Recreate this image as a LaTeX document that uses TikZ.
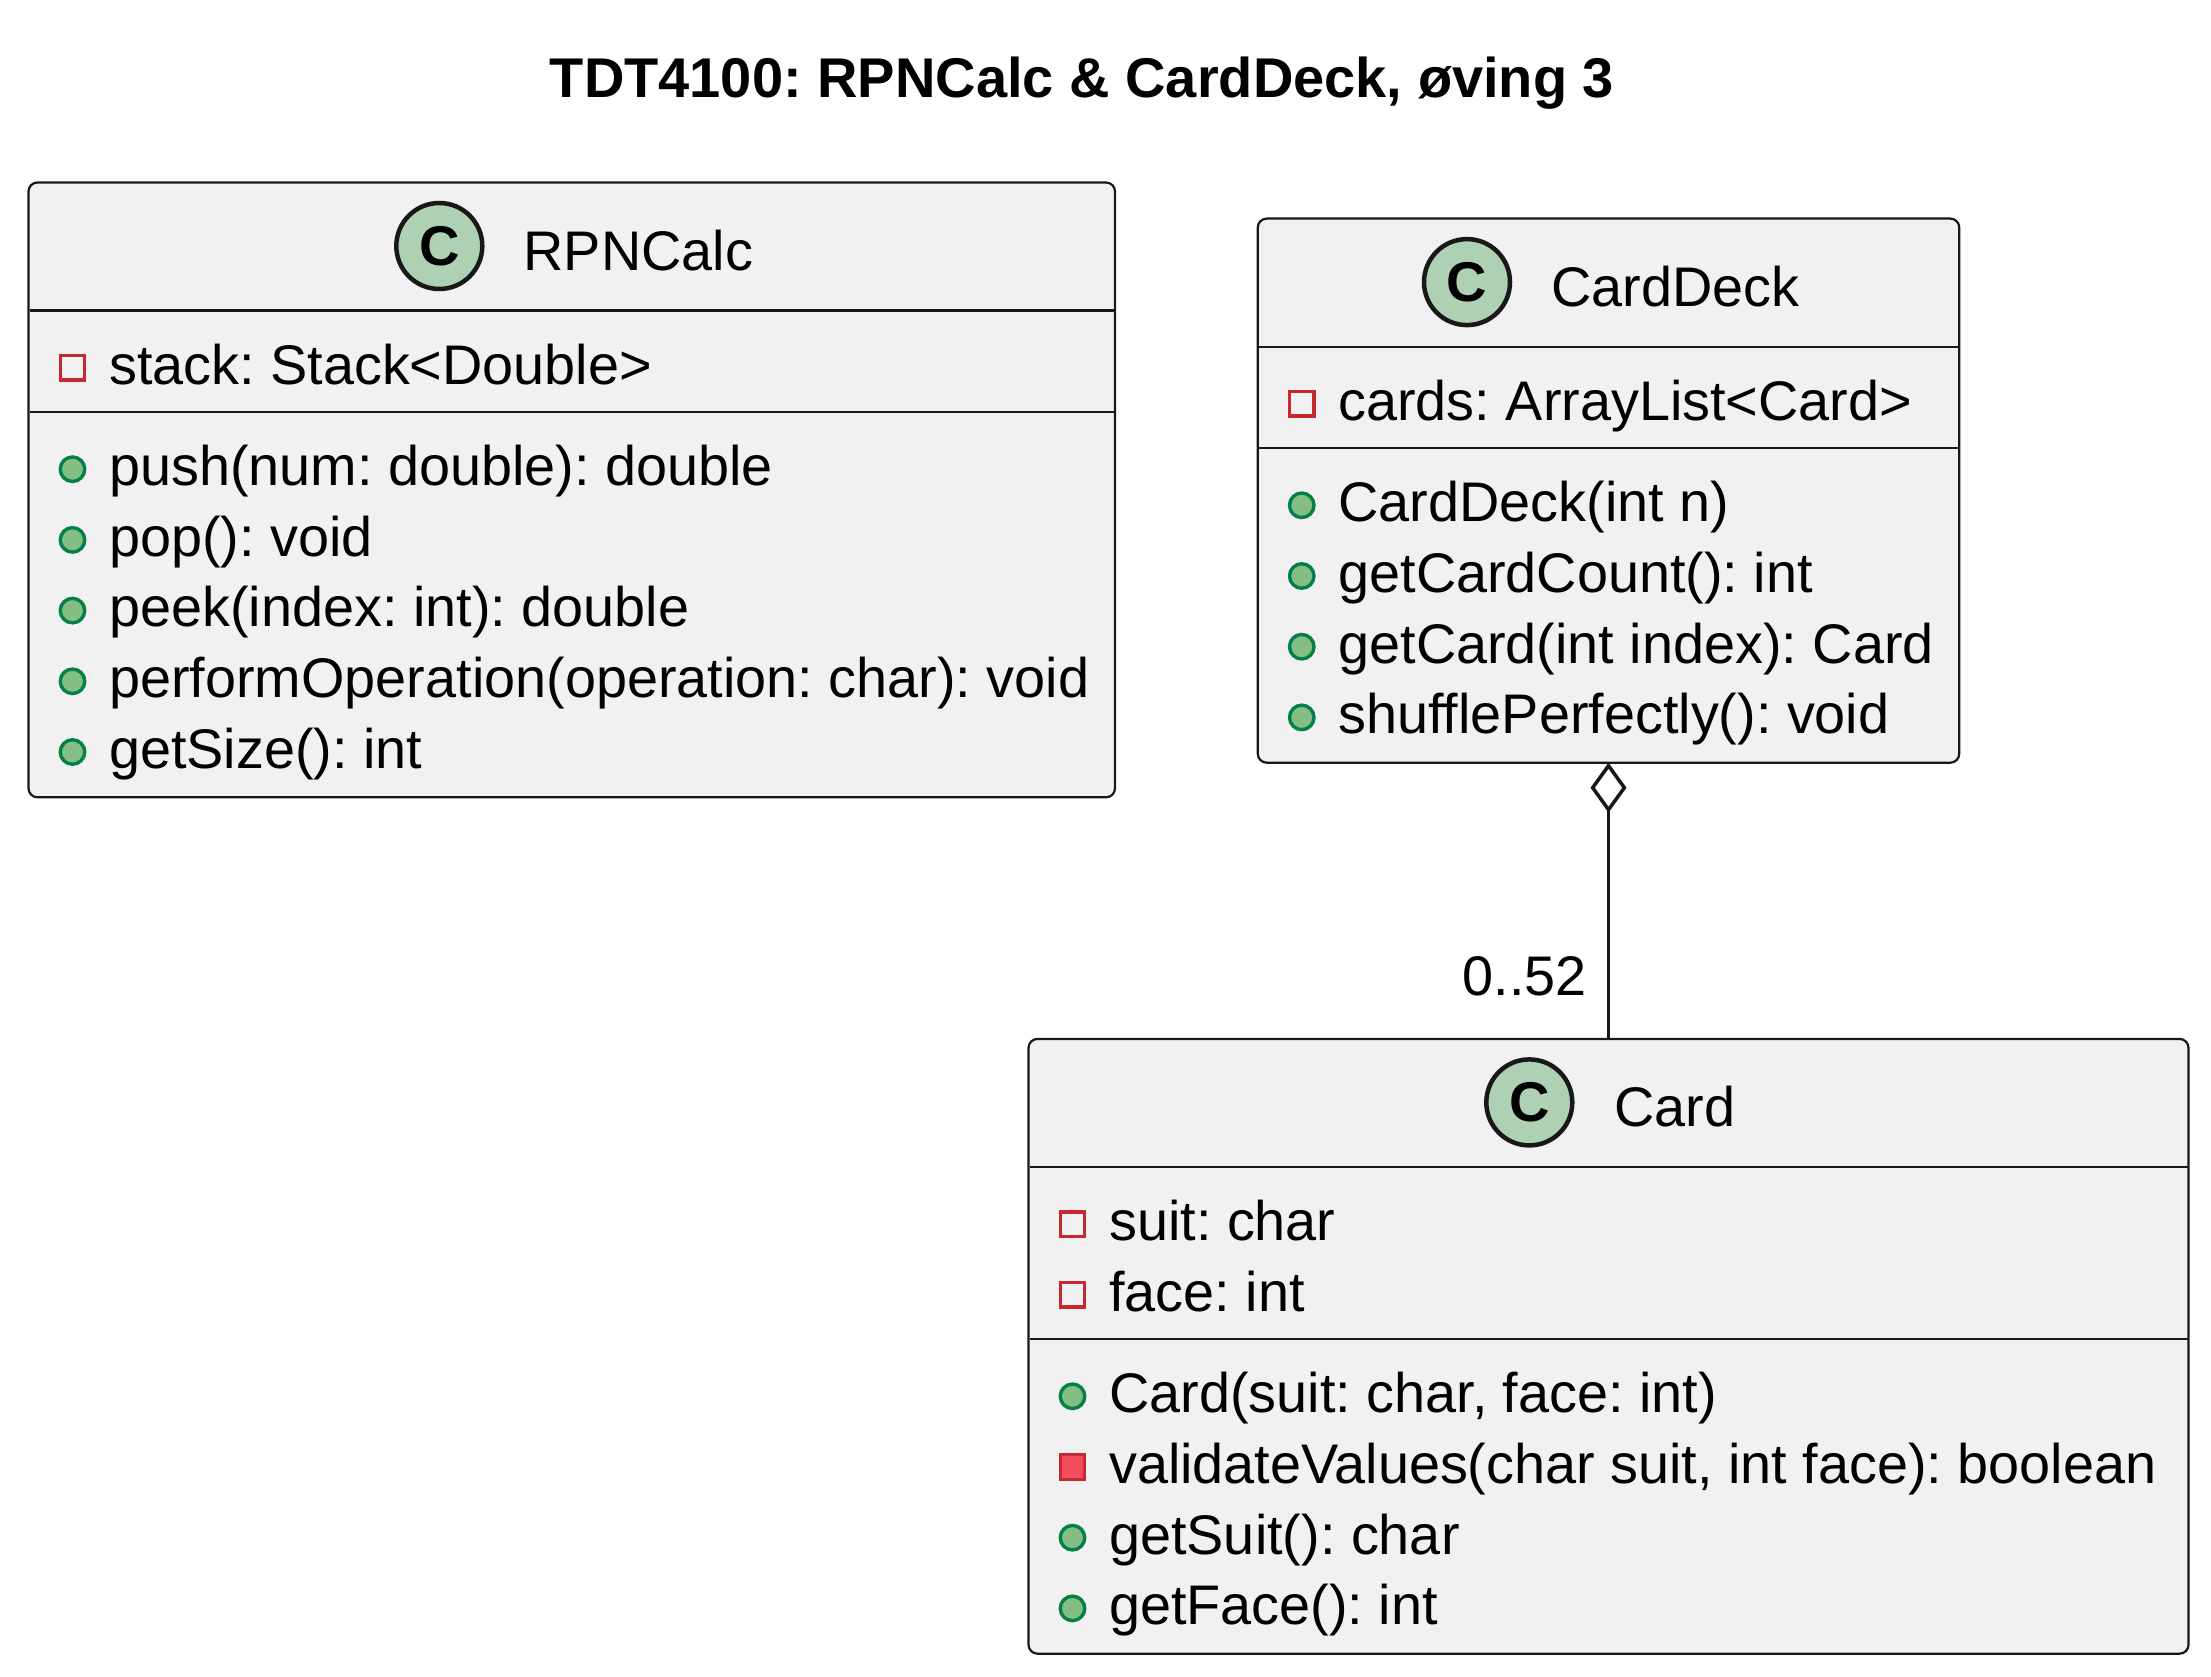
\documentclass[tikz,border=0pt]{standalone}
\usepackage{fontspec}
\setmainfont{Liberation Sans}
\usetikzlibrary{arrows.meta}
\frenchspacing
\definecolor{dkline}{HTML}{181818}
\definecolor{clsbg}{HTML}{F1F1F1}
\definecolor{cfill}{HTML}{ADD1B2}
\definecolor{privred}{HTML}{C82930}
\definecolor{privfill}{HTML}{F24D5C}
\definecolor{pubgreen}{HTML}{038048}
\definecolor{pubfill}{HTML}{84BE84}
\tikzset{
  cls/.style={draw=dkline, fill=clsbg, line width=2.2pt, rounded corners=9pt, inner sep=0pt, outer sep=0pt, anchor=north west},
  sepline/.style={draw=dkline, line width=2.2pt},
  txt/.style={inner sep=0pt, anchor=base west, font=\frenchspacing\fontsize{55.8pt}{67pt}\selectfont, text=black},
  titletxt/.style={inner sep=0pt, anchor=base, font=\frenchspacing\bfseries\fontsize{56pt}{67pt}\selectfont, text=black},
  privattr/.style={rectangle, draw=privred, fill=none, line width=3.4pt, minimum size=24.5pt, inner sep=0pt},
  privmeth/.style={rectangle, draw=privred, fill=privfill, line width=3.4pt, minimum size=24.5pt, inner sep=0pt},
  pubmeth/.style={circle, draw=pubgreen, fill=pubfill, line width=3.4pt, minimum size=24.5pt, inner sep=0pt},
  cicon/.style={circle, draw=dkline, fill=cfill, line width=4.5pt, minimum size=86pt, inner sep=0pt, font=\bfseries\fontsize{56pt}{56pt}\selectfont},
  aggr/.style={draw=dkline, line width=3.5pt, {Diamond[open, length=50pt, width=36pt, line width=3.5pt]}-},
}
\begin{document}
\begin{tikzpicture}[x=1pt, y=-1pt]
\fill[white] (0,0) rectangle (2211,1677);
\useasboundingbox (0,0) rectangle (2211,1677);

% title
\node[titletxt] (title) at (1082,98) {TDT4100: RPNCalc \& CardDeck, øving 3};

% ---------- RPNCalc ----------
\node[cls, minimum width=1086.5pt, minimum height=614.8pt] (rpn) at (28.5,182.5) {};
\draw[sepline] (29.5,310.6) -- (1114,310.6);
\draw[sepline] (29.5,412.1) -- (1114,412.1);
\node[cicon] (rpnC) at (439.3,246) {C};
\node[txt] (rpnName) at (523.3,270.5) {RPNCalc};
\node[privattr] (rpnI1) at (72.5,367.8) {};
\node[txt] (rpnA1) at (109,384.1) {stack: Stack<Double>};
\node[pubmeth] (rpnJ1) at (72.5,469.2) {};
\node[txt] (rpnM1) at (109,485.5) {push(num: double): double};
\node[pubmeth] (rpnJ2) at (72.5,539.9) {};
\node[txt] (rpnM2) at (109,556.2) {pop(): void};
\node[pubmeth] (rpnJ3) at (72.5,610.6) {};
\node[txt] (rpnM3) at (109,626.9) {peek(index: int): double};
\node[pubmeth] (rpnJ4) at (72.5,681.3) {};
\node[txt] (rpnM4) at (109,697.6) {performOperation(operation: char): void};
\node[pubmeth] (rpnJ5) at (72.5,752) {};
\node[txt] (rpnM5) at (109,768.3) {getSize(): int};

% ---------- CardDeck ----------
\node[cls, minimum width=701.5pt, minimum height=544.1pt] (cd) at (1257.75,218.6) {};
\draw[sepline] (1258.75,346.7) -- (1958.25,346.7);
\draw[sepline] (1258.75,448.2) -- (1958.25,448.2);
\node[cicon] (cdC) at (1467,282.1) {C};
\node[txt] (cdName) at (1551,306.6) {CardDeck};
\node[privattr] (cdI1) at (1301.75,403.9) {};
\node[txt] (cdA1) at (1338.25,420.2) {cards: ArrayList<Card>};
\node[pubmeth] (cdJ1) at (1301.75,505.3) {};
\node[txt] (cdM1) at (1338.25,521.6) {CardDeck(int n)};
\node[pubmeth] (cdJ2) at (1301.75,576) {};
\node[txt] (cdM2) at (1338.25,592.3) {getCardCount(): int};
\node[pubmeth] (cdJ3) at (1301.75,646.7) {};
\node[txt] (cdM3) at (1338.25,663) {getCard(int index): Card};
\node[pubmeth] (cdJ4) at (1301.75,717.4) {};
\node[txt] (cdM4) at (1338.25,733.7) {shufflePerfectly(): void};

% ---------- Card ----------
\node[cls, minimum width=1160pt, minimum height=614.8pt] (card) at (1028.5,1038.9) {};
\draw[sepline] (1029.5,1167) -- (2187.5,1167);
\draw[sepline] (1029.5,1339.2) -- (2187.5,1339.2);
\node[cicon] (cardC) at (1529.3,1102.4) {C};
\node[txt] (cardName) at (1614,1126.9) {Card};
\node[privattr] (cardI1) at (1072.5,1224.2) {};
\node[txt] (cardA1) at (1109,1240.5) {suit: char};
\node[privattr] (cardI2) at (1072.5,1294.9) {};
\node[txt] (cardA2) at (1109,1311.2) {face: int};
\node[pubmeth] (cardJ1) at (1072.5,1396.3) {};
\node[txt] (cardM1) at (1109,1412.6) {Card(suit: char, face: int)};
\node[privmeth] (cardJ2) at (1072.5,1467) {};
\node[txt] (cardM2) at (1109,1483.3) {validateValues(char suit, int face): boolean};
\node[pubmeth] (cardJ3) at (1072.5,1537.7) {};
\node[txt] (cardM3) at (1109,1554) {getSuit(): char};
\node[pubmeth] (cardJ4) at (1072.5,1608.4) {};
\node[txt] (cardM4) at (1109,1624.7) {getFace(): int};

% ---------- aggregation ----------
\draw[aggr] (cd.south) -- (card.north);
\node[txt, anchor=base east] (mult) at (1587,995) {0..52};
\end{tikzpicture}
\end{document}
